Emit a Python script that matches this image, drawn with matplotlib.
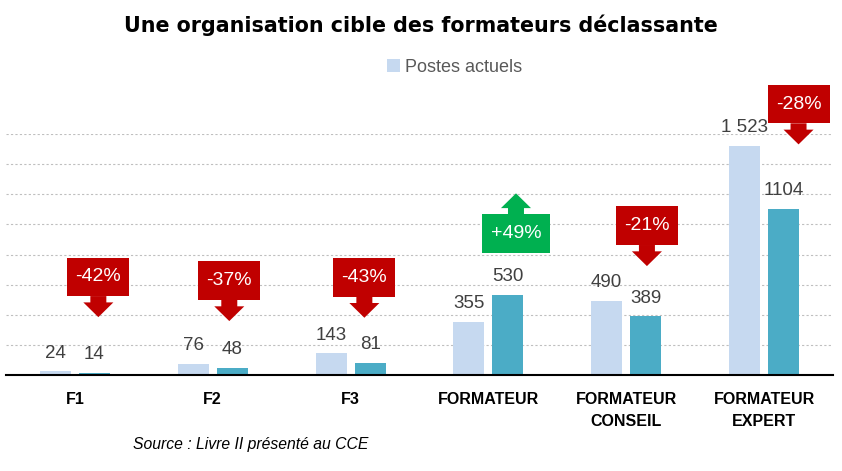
import matplotlib
matplotlib.use("Agg")
import matplotlib.pyplot as plt
from matplotlib import font_manager
from matplotlib.patches import Rectangle, Polygon

names = {f.name for f in font_manager.fontManager.ttflist}
NARROW = "Liberation Sans Narrow" if "Liberation Sans Narrow" in names else "Liberation Sans"

categories = ["F1", "F2", "F3", "FORMATEUR", "FORMATEUR\nCONSEIL", "FORMATEUR\nEXPERT"]
postes_actuels = [24, 76, 143, 355, 490, 1523]
postes_cibles = [14, 48, 81, 530, 389, 1104]
value_labels_actuels = ["24", "76", "143", "355", "490", "1 523"]
value_labels_cibles = ["14", "48", "81", "530", "389", "1104"]
changes = ["-42%", "-37%", "-43%", "+49%", "-21%", "-28%"]
# box bottom (data units) and horizontal offset of the callouts
box_bottom = [524, 498, 520, 810, 863, 1671]
box_dx = [0.17, 0.12, 0.10, 0.20, 0.15, 0.25]
yticks = [200, 400, 600, 800, 1000, 1200, 1400, 1600]

C_LIGHT = "#C6D9F0"
C_TEAL = "#4BACC6"
C_RED = "#C00000"
C_GREEN = "#00B050"
C_TXT = "#404040"

fig = plt.figure(figsize=(8.42, 4.71), dpi=100)
ax = fig.add_axes([6/842, 1-375/471, 827/842, 241/471])

x = list(range(len(categories)))
bw = 0.225
off = 0.142
ax.bar([i - off for i in x], postes_actuels, width=bw, color=C_LIGHT, zorder=3, label="Postes actuels")
ax.bar([i + off for i in x], postes_cibles, width=bw, color=C_TEAL, zorder=3)

for i in x:
    ax.annotate(value_labels_actuels[i], (i - off, postes_actuels[i]), xytext=(0, 7), textcoords="offset points",
                ha="center", va="bottom", fontsize=13.5, color=C_TXT, family=NARROW)
    ax.annotate(value_labels_cibles[i], (i + off, postes_cibles[i]), xytext=(0, 7), textcoords="offset points",
                ha="center", va="bottom", fontsize=13.5, color=C_TXT, family=NARROW)

# callout arrows
box_h = 256
stem_len = 42
head_len = 98
stem_hw = 0.058
head_hw = 0.109
for i in x:
    up = changes[i].startswith("+")
    col = C_GREEN if up else C_RED
    cx = i + box_dx[i]
    hw = 0.25 if up else 0.225
    b = box_bottom[i]
    ax.add_patch(Rectangle((cx - hw, b), 2*hw, box_h, facecolor=col, edgecolor="none", clip_on=False, zorder=5))
    if up:
        y0 = b + box_h
        pts = [(cx - stem_hw, y0), (cx - stem_hw, y0 + stem_len), (cx - head_hw, y0 + stem_len),
               (cx, y0 + stem_len + head_len), (cx + head_hw, y0 + stem_len), (cx + stem_hw, y0 + stem_len),
               (cx + stem_hw, y0)]
    else:
        y0 = b
        pts = [(cx - stem_hw, y0), (cx - stem_hw, y0 - stem_len), (cx - head_hw, y0 - stem_len),
               (cx, y0 - stem_len - head_len), (cx + head_hw, y0 - stem_len), (cx + stem_hw, y0 - stem_len),
               (cx + stem_hw, y0)]
    ax.add_patch(Polygon(pts, closed=True, facecolor=col, edgecolor="none", clip_on=False, zorder=5))
    ax.text(cx, b + box_h/2, changes[i], ha="center", va="center", color="white", fontsize=14,
            family=NARROW, zorder=6)

ax.set_xlim(-0.5, len(categories) - 0.5)
ax.set_ylim(0, 1600)
ax.set_yticks(yticks)
ax.yaxis.grid(True, linestyle=(0, (2, 2)), color="#BFBFBF", linewidth=0.8, zorder=0)
ax.tick_params(axis="y", left=False, labelleft=False)
ax.tick_params(axis="x", bottom=False, pad=9)
ax.set_xticks(x)
ax.set_xticklabels(categories, fontsize=11.5, fontweight="bold", family=NARROW, color="black", linespacing=1.55)
for s in ["top", "right", "left"]:
    ax.spines[s].set_visible(False)
ax.spines["bottom"].set_color("black")
ax.spines["bottom"].set_linewidth(1.5)
ax.spines["bottom"].set_zorder(4)

fig.text(0.5, 1-25/471, "Une organisation cible des formateurs déclassante", ha="center", va="center",
         fontsize=14.9, fontweight="heavy", family="DejaVu Sans", color="black")

leg = fig.legend(loc="center", bbox_to_anchor=(455/842, 1-67/471), frameon=False, handlelength=0.7,
                 handleheight=0.7, handletextpad=0.3, prop={"family": NARROW, "size": 13})
for t in leg.get_texts():
    t.set_color("#595959")

fig.text(133/842, 1-445/471, "Source : Livre II présenté au CCE", ha="left", va="center", fontsize=11.3,
         style="italic", family=NARROW, color="black")

fig.savefig("out.png", dpi=100)
